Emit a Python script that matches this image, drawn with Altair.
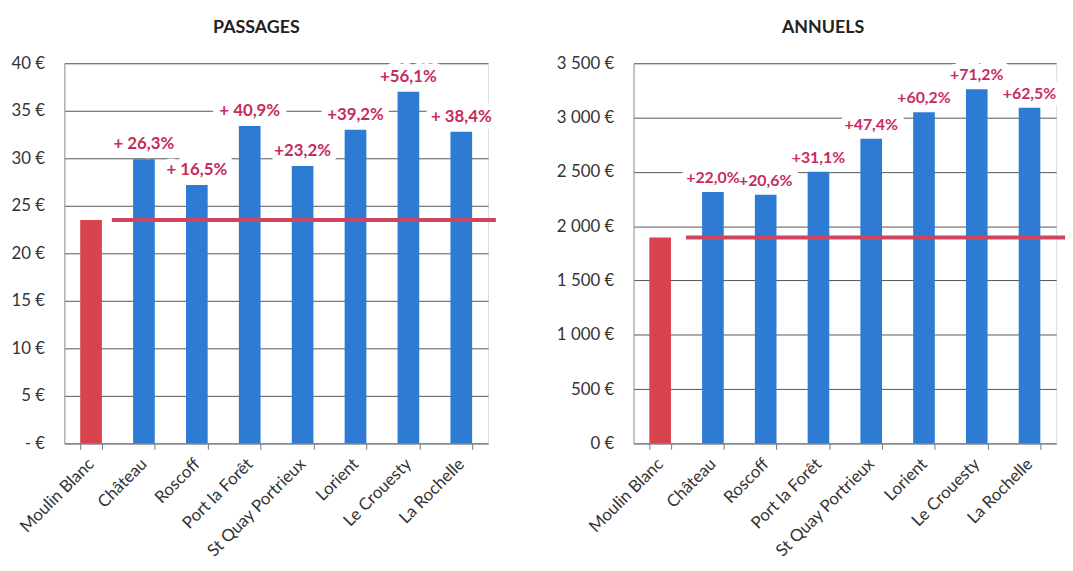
import altair as alt
import pandas as pd

ports = ["Moulin Blanc", "Château", "Roscoff", "Port la Forêt", "St Quay Portrieux",
         "Lorient", "Le Crouesty", "La Rochelle"]

passages = [23.5, 29.9, 27.2, 33.4, 29.2, 33.0, 37.0, 32.8]
passages_labels = ["", "+ 26,3%", "+ 16,5%", "+ 40,9%", "+23,2%", "+39,2%", "+56,1%", "+ 38,4%"]

annuels = [1895, 2315, 2290, 2500, 2805, 3050, 3260, 3090]
annuels_labels = ["", "+22,0%", "+20,6%", "+31,1%", "+47,4%", "+60,2%", "+71,2%", "+62,5%"]

FONT = "Lato"
BLUE = "#2E7BD4"
RED = "#D8434D"
LINE = "#CF4560"
PINK = "#C82C5C"


def panel(values, labels, title, ymax, ystep, label_expr, line_x, line_x2, title_dx,
          width, pct_size):
    df = pd.DataFrame({
        "port": ports,
        "value": values,
        "label": labels,
        "kind": ["ref"] + ["other"] * (len(ports) - 1),
    })
    ref = pd.DataFrame({"value": [values[0]]})

    x = alt.X("port:N", sort=ports, title=None,
              scale=alt.Scale(paddingInner=0.59, paddingOuter=0.3),
              axis=alt.Axis(labelAngle=-45, labelAlign="right", labelBaseline="middle",
                            labelFont=FONT, labelFontSize=17, labelColor="#333",
                            labelPadding=12, tickBand="extent", tickSize=6,
                            tickColor="#777", domainColor="#888", labelLimit=300))
    y = alt.Y("value:Q", title=None,
              scale=alt.Scale(domain=[0, ymax], nice=False),
              axis=alt.Axis(values=list(range(0, ymax + 1, ystep)), labelExpr=label_expr,
                            labelFont=FONT, labelFontSize=17, labelColor="#333",
                            ticks=False, labelPadding=20, grid=True,
                            gridColor="#555", gridWidth=1, domainColor="#999"))

    base = alt.Chart(df).encode(x=x, y=y)

    halo = base.mark_text(baseline="bottom", dy=-6, font=FONT, fontSize=pct_size,
                          fontWeight="bold", color="white", stroke="white",
                          strokeWidth=14, strokeJoin="round").encode(text="label:N")
    bars = base.mark_bar().encode(
        color=alt.Color("kind:N", scale=alt.Scale(domain=["ref", "other"], range=[RED, BLUE]),
                        legend=None))
    rule = alt.Chart(ref).mark_rule(color=LINE, strokeWidth=4).encode(
        y=alt.Y("value:Q"), x=alt.value(line_x), x2=alt.value(line_x2))
    text = base.mark_text(baseline="bottom", dy=-6, font=FONT, fontSize=pct_size,
                          fontWeight="bold", color=PINK).encode(text="label:N")

    return alt.layer(halo, bars, rule, text).properties(
        width=width, height=384,
        title=alt.TitleParams(title, font=FONT, fontSize=18, fontWeight="bold",
                              color="#222", offset=18, dx=title_dx))


left = panel(passages, passages_labels, "PASSAGES", 40, 5,
             "datum.value == 0 ? '-   €' : datum.value + ' €'",
             48, 436, -20, 428, 17)
right = panel(annuels, annuels_labels, "ANNUELS", 3500, 500,
              "replace(format(datum.value, ','), ',', ' ') + ' €'",
              53, 436, -22, 427, 16)

chart = alt.hconcat(left, right, spacing=57).properties(
    padding={"left": 10, "top": 15, "right": 5, "bottom": 5}
).configure_view(stroke=None).configure(background="white")

chart.save("out.html", embed_options={"renderer": "svg", "actions": False})
